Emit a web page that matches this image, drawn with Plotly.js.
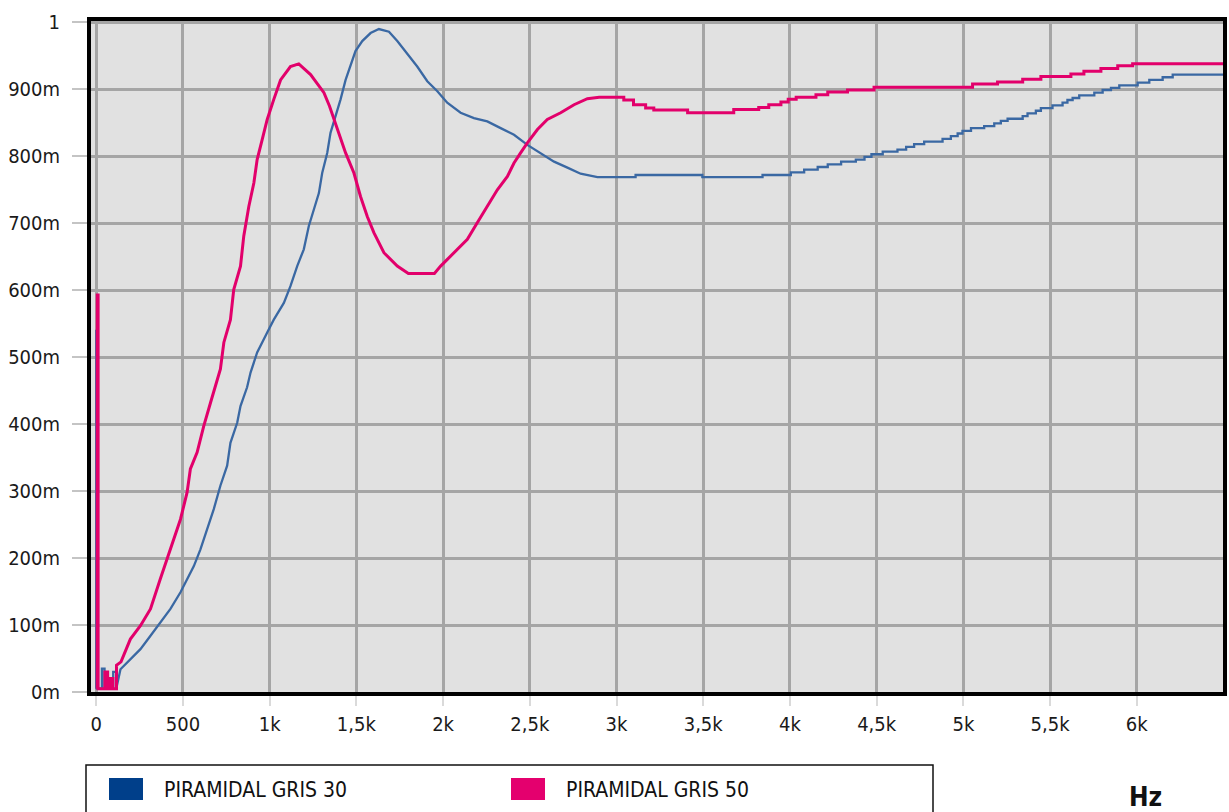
<!DOCTYPE html>
<html>
<head>
<meta charset="utf-8">
<script src="https://cdn.plot.ly/plotly-3.0.1.min.js"></script>
<style>html,body{margin:0;padding:0;background:#fff;}#chart{width:1229px;height:812px;}</style>
</head>
<body>
<div id="chart"></div>
<script>
// ---- data ----
const seriesNames = ['PIRAMIDAL GRIS 30', 'PIRAMIDAL GRIS 50'];

// PIRAMIDAL GRIS 30: low-frequency noise, smooth rise/fall, then the staircase plateau (step start/end pairs)
const freqGris30 = [0, 0, 4, 4, 33, 33, 48, 48, 98, 98, 118, 118,
  140, 197, 255, 313, 370, 428, 486, 524, 563, 601, 640, 678, 716, 755, 774, 813, 832, 851, 870, 890, 928, 986, 1024, 1082, 1120, 1159, 1197, 1226, 1255, 1284, 1303, 1332, 1351, 1380, 1409, 1438, 1466, 1495, 1534, 1582, 1630, 1688, 1736, 1793, 1851, 1909, 1967, 2024, 2101, 2178, 2255, 2332, 2409, 2486, 2563, 2640, 2717, 2793,
  2890, 3110, 3110, 3495, 3495, 3842, 3842, 4005, 4005, 4082, 4082, 4160, 4160, 4218, 4218, 4295, 4295, 4380, 4380, 4430, 4430, 4470, 4470, 4535, 4535, 4620, 4620, 4670, 4670, 4716, 4716, 4774, 4774, 4880, 4880, 4928, 4928, 4967, 4967, 4995, 4995, 5044, 5044, 5120, 5120, 5178, 5178, 5216, 5216, 5255, 5255, 5342, 5342, 5370, 5370, 5418, 5418, 5447, 5447, 5514, 5514, 5572, 5572, 5600, 5600, 5630, 5630, 5668, 5668, 5755, 5755, 5803, 5803, 5851, 5851, 5899, 5899, 6005, 6005, 6072, 6072, 6149, 6149, 6207, 6207, 6500];
const valGris30 = [0.005, 0.541, 0.541, 0.005, 0.005, 0.035, 0.035, 0.005, 0.005, 0.030, 0.030, 0.008,
  0.034, 0.049, 0.064, 0.084, 0.104, 0.124, 0.149, 0.169, 0.188, 0.213, 0.243, 0.273, 0.308, 0.338, 0.372, 0.402, 0.427, 0.442, 0.455, 0.477, 0.507, 0.537, 0.556, 0.581, 0.606, 0.636, 0.661, 0.696, 0.720, 0.745, 0.775, 0.805, 0.835, 0.860, 0.885, 0.914, 0.934, 0.957, 0.972, 0.984, 0.990, 0.986, 0.972, 0.954, 0.934, 0.912, 0.897, 0.880, 0.865, 0.857, 0.852, 0.842, 0.832, 0.817, 0.805, 0.792, 0.783, 0.774,
  0.769, 0.769, 0.772, 0.772, 0.769, 0.769, 0.772, 0.772, 0.776, 0.776, 0.780, 0.780, 0.784, 0.784, 0.788, 0.788, 0.792, 0.792, 0.795, 0.795, 0.799, 0.799, 0.803, 0.803, 0.807, 0.807, 0.810, 0.810, 0.814, 0.814, 0.818, 0.818, 0.822, 0.822, 0.826, 0.826, 0.830, 0.830, 0.834, 0.834, 0.838, 0.838, 0.842, 0.842, 0.845, 0.845, 0.849, 0.849, 0.853, 0.853, 0.856, 0.856, 0.860, 0.860, 0.864, 0.864, 0.868, 0.868, 0.872, 0.872, 0.876, 0.876, 0.880, 0.880, 0.884, 0.884, 0.887, 0.887, 0.891, 0.891, 0.895, 0.895, 0.899, 0.899, 0.902, 0.902, 0.906, 0.906, 0.910, 0.910, 0.914, 0.914, 0.918, 0.918, 0.922, 0.922];

// PIRAMIDAL GRIS 50
const freqGris50 = [6, 6, 11, 11, 50, 50, 66, 66, 79, 79, 96, 96, 117, 117,
  143, 197, 255, 313, 370, 428, 486, 524, 543, 582, 620, 659, 697, 716, 736, 774, 793, 832, 851, 880, 909, 928, 957, 986, 1024, 1063, 1120, 1168, 1236, 1313, 1345, 1390, 1438, 1486, 1524, 1563, 1601, 1659, 1736, 1800, 1950, 1986, 2063, 2140, 2198, 2255, 2313, 2371, 2409, 2447, 2486, 2544, 2601, 2678, 2755, 2832,
  2900, 3042, 3042, 3098, 3098, 3168, 3168, 3215, 3215, 3410, 3410, 3676, 3676, 3820, 3820, 3878, 3878, 3948, 3948, 3990, 3990, 4036, 4036, 4150, 4150, 4218, 4218, 4332, 4332, 4485, 4485, 5053, 5053, 5197, 5197, 5342, 5342, 5447, 5447, 5620, 5620, 5695, 5695, 5793, 5793, 5890, 5890, 5976, 5976, 6500];
const valGris50 = [0.005, 0.593, 0.593, 0.005, 0.005, 0.030, 0.030, 0.005, 0.005, 0.020, 0.020, 0.005, 0.005, 0.040,
  0.045, 0.079, 0.099, 0.124, 0.169, 0.213, 0.258, 0.298, 0.333, 0.358, 0.397, 0.432, 0.467, 0.482, 0.522, 0.556, 0.601, 0.636, 0.681, 0.725, 0.760, 0.795, 0.825, 0.855, 0.885, 0.914, 0.934, 0.938, 0.922, 0.895, 0.875, 0.840, 0.805, 0.775, 0.740, 0.710, 0.686, 0.656, 0.636, 0.625, 0.625, 0.636, 0.656, 0.676, 0.701, 0.725, 0.750, 0.770, 0.790, 0.805, 0.820, 0.840, 0.855, 0.865, 0.877, 0.886,
  0.888, 0.888, 0.884, 0.884, 0.877, 0.877, 0.872, 0.872, 0.869, 0.869, 0.865, 0.865, 0.870, 0.870, 0.873, 0.873, 0.877, 0.877, 0.881, 0.881, 0.885, 0.885, 0.888, 0.888, 0.892, 0.892, 0.896, 0.896, 0.899, 0.899, 0.903, 0.903, 0.908, 0.908, 0.911, 0.911, 0.915, 0.915, 0.919, 0.919, 0.923, 0.923, 0.927, 0.927, 0.931, 0.931, 0.935, 0.935, 0.938, 0.938];

const xTickVals = [0, 500, 1000, 1500, 2000, 2500, 3000, 3500, 4000, 4500, 5000, 5500, 6000];
const xTickText = ['0', '500', '1k', '1,5k', '2k', '2,5k', '3k', '3,5k', '4k', '4,5k', '5k', '5,5k', '6k'];
const yTickVals = [0, 0.1, 0.2, 0.3, 0.4, 0.5, 0.6, 0.7, 0.8, 0.9, 1];
const yTickText = ['0m', '100m', '200m', '300m', '400m', '500m', '600m', '700m', '800m', '900m', '1'];
const unitLabel = 'Hz';

// ---- styling ----
const lineColors = ['#3a68a3', '#e2006b'];
const legendColors = ['#003f8a', '#e4006e'];
const FONT = '"DejaVu Sans Condensed", "Liberation Sans Narrow", sans-serif';

const W = 1229, H = 812;
const M = {l: 91, r: 6, t: 21, b: 120};
const PW = W - M.l - M.r, PH = H - M.t - M.b;
const px = x => (x - M.l) / PW;      // pixel -> paper x
const py = y => (H - M.b - y) / PH;  // pixel -> paper y

const traces = [
  {x: freqGris30, y: valGris30, name: seriesNames[0], type: 'scatter', mode: 'lines',
   line: {color: lineColors[0], width: 2.3}, showlegend: false, hoverinfo: 'x+y'},
  {x: freqGris50, y: valGris50, name: seriesNames[1], type: 'scatter', mode: 'lines',
   line: {color: lineColors[1], width: 3}, showlegend: false, hoverinfo: 'x+y'}
];

const shapes = [
  {type: 'rect', xref: 'paper', yref: 'paper', x0: px(86), x1: px(933), y0: py(765), y1: py(840),
   line: {color: '#111', width: 1.5}, fillcolor: 'rgba(0,0,0,0)', layer: 'above'},
  {type: 'rect', xref: 'paper', yref: 'paper', x0: px(109), x1: px(143), y0: py(778), y1: py(800),
   line: {width: 0}, fillcolor: legendColors[0]},
  {type: 'rect', xref: 'paper', yref: 'paper', x0: px(511), x1: px(545), y0: py(778), y1: py(800),
   line: {width: 0}, fillcolor: legendColors[1]}
];

const annotations = [
  {xref: 'paper', yref: 'paper', x: px(162), y: py(790), xanchor: 'left', yanchor: 'middle', showarrow: false,
   text: seriesNames[0], font: {family: FONT, size: 21, color: '#111'}},
  {xref: 'paper', yref: 'paper', x: px(564), y: py(790), xanchor: 'left', yanchor: 'middle', showarrow: false,
   text: seriesNames[1], font: {family: FONT, size: 21, color: '#111'}},
  {xref: 'paper', yref: 'paper', x: px(1145), y: py(797), xanchor: 'center', yanchor: 'middle', showarrow: false,
   text: '<b>' + unitLabel + '</b>', font: {family: FONT, size: 26, color: '#111'}}
];

const layout = {
  width: W, height: H,
  margin: M,
  paper_bgcolor: '#ffffff',
  plot_bgcolor: '#e1e1e1',
  showlegend: false,
  font: {family: FONT, size: 20, color: '#1a1a1a'},
  xaxis: {
    range: [-30, 6497], tickmode: 'array', tickvals: xTickVals, ticktext: xTickText,
    showgrid: true, gridcolor: '#a5a5a5', gridwidth: 3, zeroline: false,
    showline: true, mirror: true, linecolor: '#000', linewidth: 4,
    ticks: 'outside', ticklen: 10, tickwidth: 1.5, tickcolor: '#dadada',
    ticklabelstandoff: 1, tickfont: {family: FONT, size: 20, color: '#1a1a1a'}
  },
  yaxis: {
    range: [0, 1.002], tickmode: 'array', tickvals: yTickVals, ticktext: yTickText,
    showgrid: true, gridcolor: '#a5a5a5', gridwidth: 3, zeroline: false,
    showline: true, mirror: true, linecolor: '#000', linewidth: 4,
    ticks: 'outside', ticklen: 15, tickwidth: 2, tickcolor: '#c4c4c4',
    ticklabelstandoff: 8, tickfont: {family: FONT, size: 20, color: '#1a1a1a'}
  },
  shapes: shapes,
  annotations: annotations
};

Plotly.newPlot('chart', traces, layout, {displayModeBar: false, responsive: false});
</script>
</body>
</html>
